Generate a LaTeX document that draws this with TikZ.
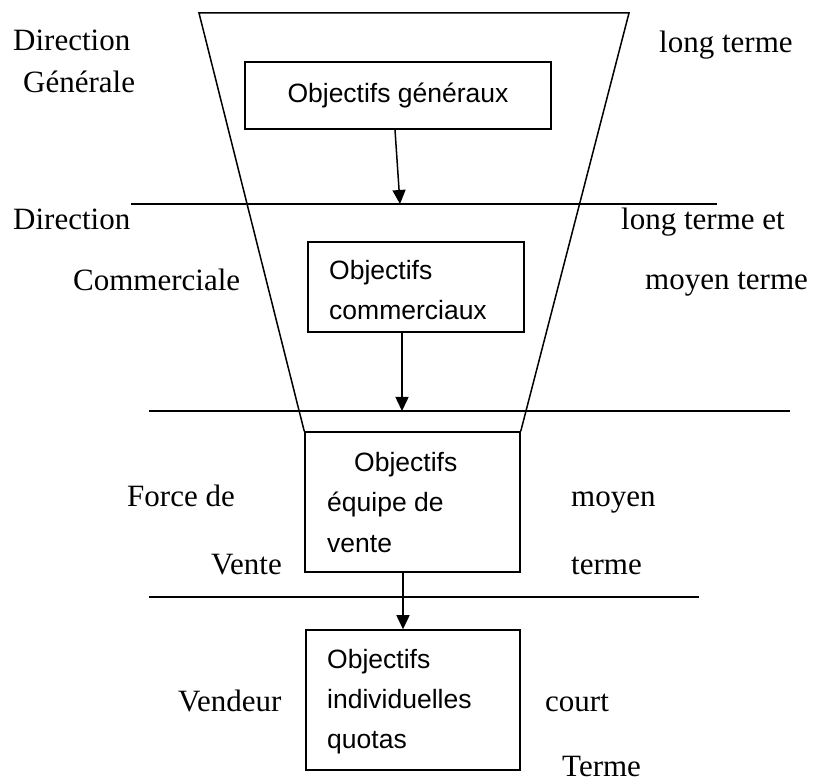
\documentclass[tikz,border=0pt]{standalone}
\usepackage{fontspec}
\setmainfont{Liberation Serif}
\setsansfont{Liberation Sans}
\usetikzlibrary{arrows.meta}
\begin{document}
\begin{tikzpicture}[x=1pt,y=-1pt]
\tikzset{
  lab/.style={font=\fontsize{31}{37}\selectfont, inner sep=0pt, anchor=base west},
  txt/.style={font=\sffamily\fontsize{26.5}{31}\selectfont, inner sep=0pt, anchor=base west},
  obox/.style={draw, line width=1.5pt, inner sep=0pt, rectangle},
  rule/.style={line width=1.5pt},
  flow/.style={line width=1.5pt, -{Triangle[width=13pt,length=14pt]}},
}
\useasboundingbox (0,0) rectangle (815,783);

% level separators
\coordinate (l1a) at (131,204); \coordinate (l1b) at (717,204);
\coordinate (l2a) at (149,411); \coordinate (l2b) at (790,411);
\coordinate (l3a) at (149,597); \coordinate (l3b) at (699,597);
\draw[rule] (l1a) -- (l1b);
\draw[rule] (l2a) -- (l2b);
\draw[rule] (l3a) -- (l3b);

% objective boxes
\node[obox, minimum width=306pt, minimum height=67pt,
      font=\sffamily\fontsize{26.5}{31}\selectfont] (gen) at (398,95.5) {Objectifs généraux};
\node[obox, minimum width=216pt, minimum height=90pt] (com) at (416,287) {};
\node[obox, minimum width=215pt, minimum height=140pt] (eq) at (412.5,502) {};
\node[obox, minimum width=214pt, minimum height=140pt] (ind) at (413,700) {};

% funnel
\coordinate (ftl) at (199,13); \coordinate (ftr) at (629,13);
\draw[rule, line join=miter] (eq.north west) -- (ftl) -- (ftr) -- (eq.north east);

% box texts
\node[txt] (c1) at (329,280) {Objectifs};
\node[txt] (c2) at (329,320) {commerciaux};
\node[txt] (e1) at (354,472) {Objectifs};
\node[txt] (e2) at (327,512) {équipe de};
\node[txt] (e3) at (327,553) {vente};
\node[txt] (i1) at (327,669) {Objectifs};
\node[txt] (i2) at (327,709) {individuelles};
\node[txt] (i3) at (327,749) {quotas};

% arrows
\coordinate (t1) at (400,204);
\coordinate (t2) at (402,411);
\coordinate (a3x) at (403,600);
\draw[flow] ([xshift=-3pt]gen.south) -- (t1);
\draw[flow] (com.south -| t2) -- (t2);
\draw[flow] (eq.south -| a3x) -- (ind.north -| a3x);

% left labels
\node[lab] (dg1) at (13,51) {Direction};
\node[lab] (dg2) at (23,93) {Générale};
\node[lab] (dc1) at (13,230) {Direction};
\node[lab] (dc2) at (73,291) {Commerciale};
\node[lab] (fv1) at (127,507) {Force de};
\node[lab] (fv2) at (211,575) {Vente};
\node[lab] (vd) at (178,712) {Vendeur};

% right labels
\node[lab] (r1) at (659,53) {long terme};
\node[lab] (r2) at (621,230) {long terme et};
\node[lab] (r3) at (645,290) {moyen terme};
\node[lab] (r4) at (571,507) {moyen};
\node[lab] (r5) at (571,575) {terme};
\node[lab] (r6) at (545,712) {court};
\node[lab] (r7) at (562,776) {Terme};
\end{tikzpicture}
\end{document}
